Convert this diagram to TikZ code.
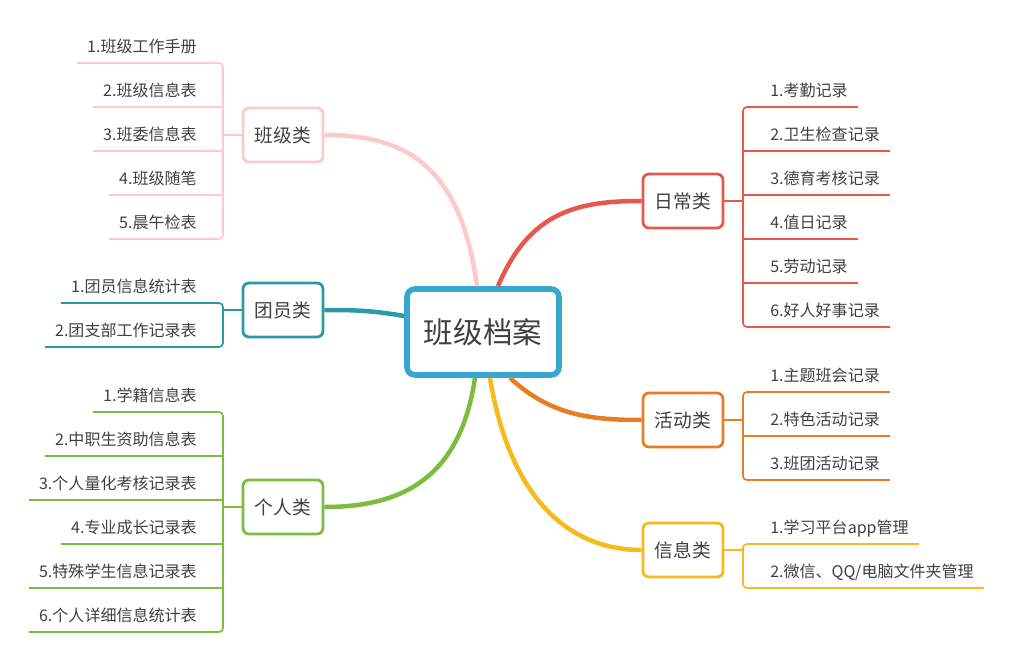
\documentclass[tikz,border=0pt]{standalone}
\usepackage{fontspec}
\setmainfont{Noto Sans CJK SC}
\usepackage{xcolor}
\usetikzlibrary{positioning,calc}

\definecolor{txt}{HTML}{404040}
\definecolor{rootblue}{HTML}{38A7CF}
\definecolor{banpink}{HTML}{FACBC8}
\definecolor{tuanteal}{HTML}{2B9AA6}
\definecolor{gegreen}{HTML}{7DBC42}
\definecolor{rired}{HTML}{E6584B}
\definecolor{huoorange}{HTML}{E87D24}
\definecolor{xinyellow}{HTML}{F7BA1C}

\tikzset{
    root/.style={draw=rootblue, line width=4pt, rounded corners=0.2cm, fill=white, text=txt,
        minimum width=3.8cm, minimum height=2.15cm, font=\fontsize{21}{24}\selectfont},
    cat/.style={draw=#1, line width=2pt, rounded corners=0.15cm, fill=white, text=txt,
        minimum width=2cm, minimum height=1.35cm, font=\fontsize{13.3}{16}\selectfont},
    leafl/.style={anchor=south east, inner xsep=0.25cm, inner ysep=0.05cm, text depth=0.2cm,
        text=txt, font=\fontsize{11.4}{14}\selectfont},
    leafr/.style={leafl, anchor=south west},
    branch/.style={draw=#1, line width=3.2pt},
    stem/.style={draw=#1, line width=1.2pt, rounded corners=0.1cm},
}

\begin{document}
\begin{tikzpicture}[x=0.025cm, y=-0.025cm]
\useasboundingbox (0,0) rectangle (1015,664);

% centre and the six groups
\node[root] (cen) at (483,332) {班级档案};
\node[cat=banpink] (ban) at (283,135) {班级类};
\node[cat=tuanteal] (tuan) at (283,310) {团员类};
\node[cat=gegreen] (ge) at (283,507) {个人类};
\node[cat=rired] (ri) at (683,201) {日常类};
\node[cat=huoorange] (huo) at (683,420) {活动类};
\node[cat=xinyellow] (xin) at (683,550) {信息类};

% main branches
\draw[branch=banpink] ($(cen.north)+(-6,0)$) .. controls (460,160) and (400,135) .. (ban.east);
\draw[branch=rired] ($(cen.north)+(15,0)$) .. controls (530,210) and (580,201) .. (ri.west);
\draw[branch=tuanteal] ($(cen.west)+(0,-16)$) .. controls (370,310) and (350,310) .. (tuan.east);
\draw[branch=gegreen] ($(cen.south)+(-8,0)$) .. controls (460,480) and (400,507) .. (ge.east);
\draw[branch=xinyellow] ($(cen.south)+(7,0)$) .. controls (510,500) and (570,550) .. (xin.west);
\draw[branch=huoorange] ($(cen.south)+(27,0)$) .. controls (550,415) and (590,420) .. (huo.west);

\coordinate (bl) at (223,0);
\coordinate (br) at (743,0);

% 班级类
\node[leafl] (ban1) at (207,63) {1.班级工作手册};
\node[leafl] (ban2) at (207,107) {2.班级信息表};
\node[leafl] (ban3) at (207,151) {3.班委信息表};
\node[leafl] (ban4) at (207,195) {4.班级随笔};
\node[leafl] (ban5) at (207,239) {5.晨午检表};
\draw[stem=banpink] (ban1.south west) -- (ban1.south west -| bl) -- (ban5.south west -| bl) -- (ban5.south west);
\foreach \n in {ban2,ban3,ban4}
    \draw[stem=banpink] (\n.south west) -- (\n.south west -| bl);
\draw[stem=banpink] (ban.west) -- (ban.west -| bl);

% 团员类
\node[leafl] (tuan1) at (207,303) {1.团员信息统计表};
\node[leafl] (tuan2) at (207,347) {2.团支部工作记录表};
\draw[stem=tuanteal] (tuan1.south west) -- (tuan1.south west -| bl) -- (tuan2.south west -| bl) -- (tuan2.south west);
\draw[stem=tuanteal] (tuan.west) -- (tuan.west -| bl);

% 个人类
\node[leafl] (ge1) at (207,412) {1.学籍信息表};
\node[leafl] (ge2) at (207,456) {2.中职生资助信息表};
\node[leafl] (ge3) at (207,500) {3.个人量化考核记录表};
\node[leafl] (ge4) at (207,544) {4.专业成长记录表};
\node[leafl] (ge5) at (207,588) {5.特殊学生信息记录表};
\node[leafl] (ge6) at (207,632) {6.个人详细信息统计表};
\draw[stem=gegreen] (ge1.south west) -- (ge1.south west -| bl) -- (ge6.south west -| bl) -- (ge6.south west);
\foreach \n in {ge2,ge3,ge4,ge5}
    \draw[stem=gegreen] (\n.south west) -- (\n.south west -| bl);
\draw[stem=gegreen] (ge.west) -- (ge.west -| bl);

% 日常类
\node[leafr] (ri1) at (760,107) {1.考勤记录};
\node[leafr] (ri2) at (760,151) {2.卫生检查记录};
\node[leafr] (ri3) at (760,195) {3.德育考核记录};
\node[leafr] (ri4) at (760,239) {4.值日记录};
\node[leafr] (ri5) at (760,283) {5.劳动记录};
\node[leafr] (ri6) at (760,327) {6.好人好事记录};
\draw[stem=rired] (ri1.south east) -- (ri1.south east -| br) -- (ri6.south east -| br) -- (ri6.south east);
\foreach \n in {ri2,ri3,ri4,ri5}
    \draw[stem=rired] (\n.south east) -- (\n.south east -| br);
\draw[stem=rired] (ri.east) -- (ri.east -| br);

% 活动类
\node[leafr] (huo1) at (760,392) {1.主题班会记录};
\node[leafr] (huo2) at (760,436) {2.特色活动记录};
\node[leafr] (huo3) at (760,480) {3.班团活动记录};
\draw[stem=huoorange] (huo1.south east) -- (huo1.south east -| br) -- (huo3.south east -| br) -- (huo3.south east);
\draw[stem=huoorange] (huo2.south east) -- (huo2.south east -| br);
\draw[stem=huoorange] (huo.east) -- (huo.east -| br);

% 信息类
\node[leafr] (xin1) at (760,544) {1.学习平台app管理};
\node[leafr] (xin2) at (760,588) {2.微信、QQ/电脑文件夹管理};
\draw[stem=xinyellow] (xin1.south east) -- (xin1.south east -| br) -- (xin2.south east -| br) -- (xin2.south east);
\draw[stem=xinyellow] (xin.east) -- (xin.east -| br);
\end{tikzpicture}
\end{document}
